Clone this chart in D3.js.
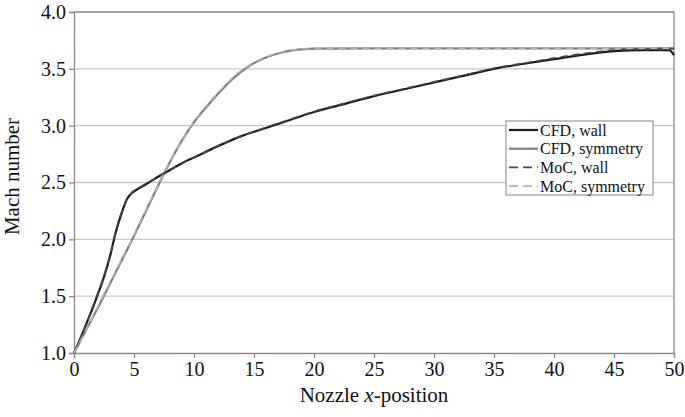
<!DOCTYPE html>
<html>
<head>
<meta charset="utf-8">
<script src="https://cdn.jsdelivr.net/npm/d3@7"></script>
<style>
  body { margin: 0; background: #fff; }
  svg { display: block; }
  text { font-family: "Liberation Serif", "Times New Roman", serif; fill: #111; }
</style>
</head>
<body>
<div id="chart"></div>
<script>
//Datos
const wallX = [0, 0.5, 1, 1.5, 2, 2.5, 3, 3.5, 4, 4.4, 4.8, 5.2, 6, 7, 8, 9, 10, 12, 14, 16, 18, 20, 22.5, 25, 27.5, 30, 32.5, 35, 37.5, 40, 42.5, 45, 47.5, 49.6, 50];
const cfdWall = [1.0, 1.12, 1.25, 1.38, 1.52, 1.67, 1.85, 2.07, 2.24, 2.35, 2.405, 2.435, 2.485, 2.55, 2.61, 2.67, 2.72, 2.82, 2.91, 2.98, 3.05, 3.12, 3.19, 3.26, 3.32, 3.38, 3.44, 3.5, 3.545, 3.585, 3.625, 3.655, 3.665, 3.665, 3.62];
const mocWall = [1.0, 1.12, 1.25, 1.39, 1.53, 1.68, 1.86, 2.08, 2.25, 2.35, 2.41, 2.44, 2.49, 2.55, 2.61, 2.67, 2.72, 2.82, 2.91, 2.985, 3.055, 3.125, 3.195, 3.265, 3.325, 3.385, 3.445, 3.505, 3.55, 3.595, 3.635, 3.665, 3.675, 3.678, 3.678];

const symX = [0, 1, 2, 3, 4, 5, 6, 7, 8, 9, 10, 11, 12, 13, 14, 15, 16, 17, 18, 19, 20, 25, 30, 35, 40, 45, 50];
const cfdSym = [1.0, 1.2, 1.4, 1.61, 1.82, 2.03, 2.25, 2.47, 2.68, 2.87, 3.03, 3.16, 3.28, 3.39, 3.48, 3.55, 3.6, 3.635, 3.66, 3.672, 3.678, 3.68, 3.68, 3.68, 3.68, 3.68, 3.68];
const mocSym = [1.0, 1.2, 1.41, 1.62, 1.83, 2.04, 2.26, 2.47, 2.68, 2.87, 3.03, 3.17, 3.29, 3.4, 3.49, 3.555, 3.605, 3.64, 3.662, 3.674, 3.68, 3.682, 3.682, 3.682, 3.682, 3.682, 3.682];

const xTicks = [0, 5, 10, 15, 20, 25, 30, 35, 40, 45, 50];
const yTicks = [1.0, 1.5, 2.0, 2.5, 3.0, 3.5, 4.0];

const legendLabels = ['CFD, wall', 'CFD, symmetry', 'MoC, wall', 'MoC, symmetry'];

//Estilos de las series
const series = [
    { xs: wallX, ys: cfdWall, color: '#1c1c1c', dash: null, width: 2.2 },
    { xs: symX, ys: cfdSym, color: '#7f7f7f', dash: null, width: 2.2 },
    { xs: wallX, ys: mocWall, color: '#4a4a4a', dash: '7,5', width: 1.6 },
    { xs: symX, ys: mocSym, color: '#b3b3b3', dash: '7,5', width: 1.6 }
];

let margin = {top: 12, right: 11, bottom: 64, left: 74},
    width = 685 - margin.left - margin.right,
    height = 417 - margin.top - margin.bottom;

let svg = d3.select('#chart')
    .append('svg')
        .attr('width', 685)
        .attr('height', 417)
    .append('g')
        .attr('transform', 'translate(' + margin.left + ',' + margin.top + ')');

let x = d3.scaleLinear().domain([0, 50]).range([0, width]);
let y = d3.scaleLinear().domain([1, 4]).range([height, 0]);

//Rejilla
svg.append('g')
    .selectAll('line')
    .data(yTicks.filter(function(d) { return d > 1 && d < 4; }))
    .enter()
    .append('line')
    .attr('x1', 0)
    .attr('x2', width)
    .attr('y1', function(d) { return y(d); })
    .attr('y2', function(d) { return y(d); })
    .attr('stroke', '#c8c8c8')
    .attr('stroke-width', 1.3);

//Marco superior y derecho
svg.append('path')
    .attr('d', 'M0,' + y(4) + 'H' + width + 'V' + height)
    .attr('fill', 'none')
    .attr('stroke', '#8a8a8a')
    .attr('stroke-width', 1.3);

//Ejes
let xAxis = svg.append('g')
    .attr('transform', 'translate(0,' + height + ')')
    .call(d3.axisBottom(x).tickValues(xTicks).tickSize(5).tickPadding(4).tickFormat(d3.format('d')));

let yAxis = svg.append('g')
    .call(d3.axisLeft(y).tickValues(yTicks).tickSize(5).tickPadding(3).tickFormat(d3.format('.1f')));

[xAxis, yAxis].forEach(function(g) {
    g.select('.domain').attr('stroke', '#8a8a8a').attr('stroke-width', 1.3);
    g.selectAll('.tick line').attr('stroke', '#8a8a8a').attr('stroke-width', 1.3);
    g.selectAll('.tick text')
        .attr('font-family', '"Liberation Serif", "Times New Roman", serif')
        .attr('font-size', 20)
        .attr('fill', '#111');
});

//Líneas
let line = function(s) {
    return d3.line()
        .x(function(d, i) { return x(s.xs[i]); })
        .y(function(d) { return y(d); })
        .curve(d3.curveMonotoneX)(s.ys);
};

series.forEach(function(s) {
    svg.append('path')
        .attr('d', line(s))
        .attr('fill', 'none')
        .attr('stroke', s.color)
        .attr('stroke-width', s.width)
        .attr('stroke-dasharray', s.dash);
});

//Títulos de ejes
svg.append('text')
    .attr('transform', 'translate(' + (-55) + ',' + (height / 2 - 6) + ') rotate(-90)')
    .attr('text-anchor', 'middle')
    .attr('font-size', 21)
    .text('Mach number');

let xTitle = svg.append('text')
    .attr('x', 300)
    .attr('y', height + 49)
    .attr('text-anchor', 'middle')
    .attr('font-size', 21);
xTitle.append('tspan').text('Nozzle ');
xTitle.append('tspan').attr('font-style', 'italic').text('x');
xTitle.append('tspan').text('-position');

//Leyenda
let legend = svg.append('g')
    .attr('transform', 'translate(' + (506 - margin.left) + ',' + (121 - margin.top) + ')');

legend.append('rect')
    .attr('width', 147)
    .attr('height', 74)
    .attr('fill', '#fff')
    .attr('stroke', '#999')
    .attr('stroke-width', 1.2);

legendLabels.forEach(function(label, i) {
    let yy = 9 + i * 18.7;
    legend.append('line')
        .attr('x1', 3)
        .attr('x2', 32)
        .attr('y1', yy)
        .attr('y2', yy)
        .attr('stroke', series[i].color)
        .attr('stroke-width', series[i].width)
        .attr('stroke-dasharray', series[i].dash ? '9,5' : null);
    legend.append('text')
        .attr('x', 34)
        .attr('y', yy)
        .attr('dy', '0.35em')
        .attr('font-size', 16)
        .text(label);
});
</script>
</body>
</html>
